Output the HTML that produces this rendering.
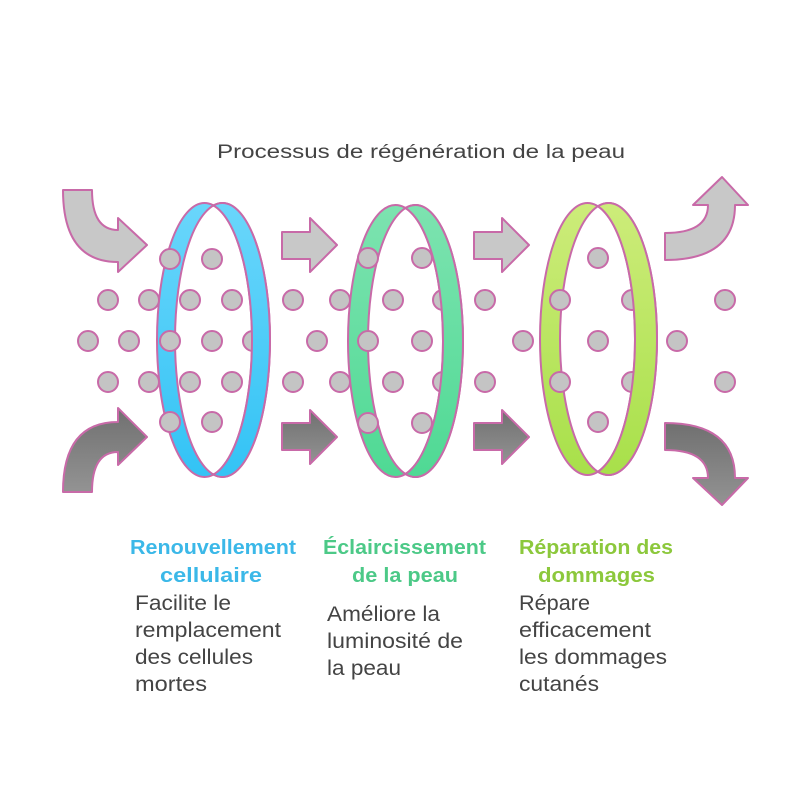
<!DOCTYPE html>
<html><head><meta charset="utf-8"><style>
html,body{margin:0;padding:0;background:#fff;}
svg{display:block;font-family:"Liberation Sans",sans-serif;}
</style></head><body>
<svg width="800" height="800" viewBox="0 0 800 800" xmlns="http://www.w3.org/2000/svg">
<defs>
<linearGradient id="gb" x1="0" y1="0" x2="0" y2="1"><stop offset="0" stop-color="#6ad6fb"/><stop offset="1" stop-color="#33c3f5"/></linearGradient>
<linearGradient id="gg" x1="0" y1="0" x2="0" y2="1"><stop offset="0" stop-color="#7de3b0"/><stop offset="1" stop-color="#4fd994"/></linearGradient>
<linearGradient id="gl" x1="0" y1="0" x2="0" y2="1"><stop offset="0" stop-color="#cdec7a"/><stop offset="1" stop-color="#a8e04a"/></linearGradient>
<linearGradient id="gd" x1="0" y1="0" x2="0" y2="1"><stop offset="0" stop-color="#707070"/><stop offset="1" stop-color="#939393"/></linearGradient>
<clipPath id="c1"><rect x="213" y="0" width="100" height="800"/></clipPath>
<clipPath id="c2"><rect x="405" y="0" width="100" height="800"/></clipPath>
<clipPath id="c3"><rect x="598" y="0" width="100" height="800"/></clipPath>
</defs>
<text x="217" y="158" font-size="19" fill="#444" textLength="408" lengthAdjust="spacingAndGlyphs">Processus de régénération de la peau</text>

<g stroke="#c86aa8" stroke-width="2" stroke-linejoin="round">
<path d="M63,190 L92,190 Q92,230 118,230 L118,218 L147,245 L118,272 L118,262 Q63,262 63,190 Z" fill="#c8c8c8"/>
<path d="M63,492 L92,492 Q92,452 118,452 L118,465 L147,437 L118,408 L118,422 Q63,422 63,492 Z" fill="url(#gd)"/>
<path d="M665,260 L665,233 Q708,233 708,205 L693,205 L722,177 L748,205 L735,205 Q735,260 665,260 Z" fill="#c8c8c8"/>
<path d="M665,423 L665,450 Q708,450 708,478 L693,478 L722,505 L748,478 L735,478 Q735,423 665,423 Z" fill="url(#gd)"/>
<path d="M282,232 L310,232 L310,218 L337,245 L310,272 L310,259 L282,259 Z" fill="#c8c8c8"/>
<path d="M282,423 L310,423 L310,410 L337,437 L310,464 L310,450 L282,450 Z" fill="url(#gd)"/>
<path d="M474,232 L502,232 L502,218 L529,245 L502,272 L502,259 L474,259 Z" fill="#c8c8c8"/>
<path d="M474,423 L502,423 L502,410 L529,437 L502,464 L502,450 L474,450 Z" fill="url(#gd)"/>

<path fill-rule="evenodd" fill="url(#gb)" d="M157,340 a47.5,137 0 1,0 95,0 a47.5,137 0 1,0 -95,0 Z M175,340 a47.5,137 0 1,0 95,0 a47.5,137 0 1,0 -95,0 Z"/>
<path fill-rule="evenodd" fill="url(#gg)" d="M348,341 a47.5,136 0 1,0 95,0 a47.5,136 0 1,0 -95,0 Z M368,341 a47.5,136 0 1,0 95,0 a47.5,136 0 1,0 -95,0 Z"/>
<path fill-rule="evenodd" fill="url(#gl)" d="M540,339 a47.5,136 0 1,0 95,0 a47.5,136 0 1,0 -95,0 Z M560,339 a48.5,136 0 1,0 97,0 a48.5,136 0 1,0 -97,0 Z"/>

<g fill="#c4c4c4">
<circle cx="170" cy="259" r="10"/><circle cx="212" cy="259" r="10"/>
<circle cx="108" cy="300" r="10"/><circle cx="149" cy="300" r="10"/><circle cx="190" cy="300" r="10"/><circle cx="232" cy="300" r="10"/>
<circle cx="88" cy="341" r="10"/><circle cx="129" cy="341" r="10"/><circle cx="170" cy="341" r="10"/><circle cx="212" cy="341" r="10"/><circle cx="253" cy="341" r="10"/>
<circle cx="108" cy="382" r="10"/><circle cx="149" cy="382" r="10"/><circle cx="190" cy="382" r="10"/><circle cx="232" cy="382" r="10"/>
<circle cx="170" cy="422" r="10"/><circle cx="212" cy="422" r="10"/>

<circle cx="368" cy="258" r="10"/><circle cx="422" cy="258" r="10"/>
<circle cx="293" cy="300" r="10"/><circle cx="340" cy="300" r="10"/><circle cx="393" cy="300" r="10"/><circle cx="443" cy="300" r="10"/><circle cx="485" cy="300" r="10"/>
<circle cx="317" cy="341" r="10"/><circle cx="368" cy="341" r="10"/><circle cx="422" cy="341" r="10"/><circle cx="523" cy="341" r="10"/>
<circle cx="293" cy="382" r="10"/><circle cx="340" cy="382" r="10"/><circle cx="393" cy="382" r="10"/><circle cx="443" cy="382" r="10"/><circle cx="485" cy="382" r="10"/>
<circle cx="368" cy="423" r="10"/><circle cx="422" cy="423" r="10"/>

<circle cx="598" cy="258" r="10"/>
<circle cx="560" cy="300" r="10"/><circle cx="632" cy="300" r="10"/><circle cx="725" cy="300" r="10"/>
<circle cx="598" cy="341" r="10"/><circle cx="677" cy="341" r="10"/>
<circle cx="560" cy="382" r="10"/><circle cx="632" cy="382" r="10"/><circle cx="725" cy="382" r="10"/>
<circle cx="598" cy="422" r="10"/>
</g>

<path clip-path="url(#c1)" fill-rule="evenodd" fill="url(#gb)" d="M157,340 a47.5,137 0 1,0 95,0 a47.5,137 0 1,0 -95,0 Z M175,340 a47.5,137 0 1,0 95,0 a47.5,137 0 1,0 -95,0 Z"/>
<path clip-path="url(#c2)" fill-rule="evenodd" fill="url(#gg)" d="M348,341 a47.5,136 0 1,0 95,0 a47.5,136 0 1,0 -95,0 Z M368,341 a47.5,136 0 1,0 95,0 a47.5,136 0 1,0 -95,0 Z"/>
<path clip-path="url(#c3)" fill-rule="evenodd" fill="url(#gl)" d="M540,339 a47.5,136 0 1,0 95,0 a47.5,136 0 1,0 -95,0 Z M560,339 a48.5,136 0 1,0 97,0 a48.5,136 0 1,0 -97,0 Z"/>
</g>

<g font-weight="bold" font-size="20">
<text x="130" y="554" fill="#3bb8e8" textLength="166" lengthAdjust="spacingAndGlyphs">Renouvellement</text>
<text x="160" y="582" fill="#3bb8e8" textLength="102" lengthAdjust="spacingAndGlyphs">cellulaire</text>
<text x="323" y="554" fill="#4cc987" textLength="163" lengthAdjust="spacingAndGlyphs">Éclaircissement</text>
<text x="352" y="582" fill="#4cc987" textLength="106" lengthAdjust="spacingAndGlyphs">de la peau</text>
<text x="519" y="554" fill="#8cc83c" textLength="154" lengthAdjust="spacingAndGlyphs">Réparation des</text>
<text x="538" y="582" fill="#8cc83c" textLength="117" lengthAdjust="spacingAndGlyphs">dommages</text>
</g>
<g font-size="21" fill="#444">
<text x="135" y="610" textLength="96" lengthAdjust="spacingAndGlyphs">Facilite le</text>
<text x="135" y="637" textLength="146" lengthAdjust="spacingAndGlyphs">remplacement</text>
<text x="135" y="664" textLength="118" lengthAdjust="spacingAndGlyphs">des cellules</text>
<text x="135" y="691" textLength="72" lengthAdjust="spacingAndGlyphs">mortes</text>
<text x="327" y="621" textLength="113" lengthAdjust="spacingAndGlyphs">Améliore la</text>
<text x="327" y="648" textLength="136" lengthAdjust="spacingAndGlyphs">luminosité de</text>
<text x="327" y="675" textLength="74" lengthAdjust="spacingAndGlyphs">la peau</text>
<text x="519" y="610" textLength="71" lengthAdjust="spacingAndGlyphs">Répare</text>
<text x="519" y="637" textLength="132" lengthAdjust="spacingAndGlyphs">efficacement</text>
<text x="519" y="664" textLength="148" lengthAdjust="spacingAndGlyphs">les dommages</text>
<text x="519" y="691" textLength="80" lengthAdjust="spacingAndGlyphs">cutanés</text>
</g>
</svg>
</body></html>
